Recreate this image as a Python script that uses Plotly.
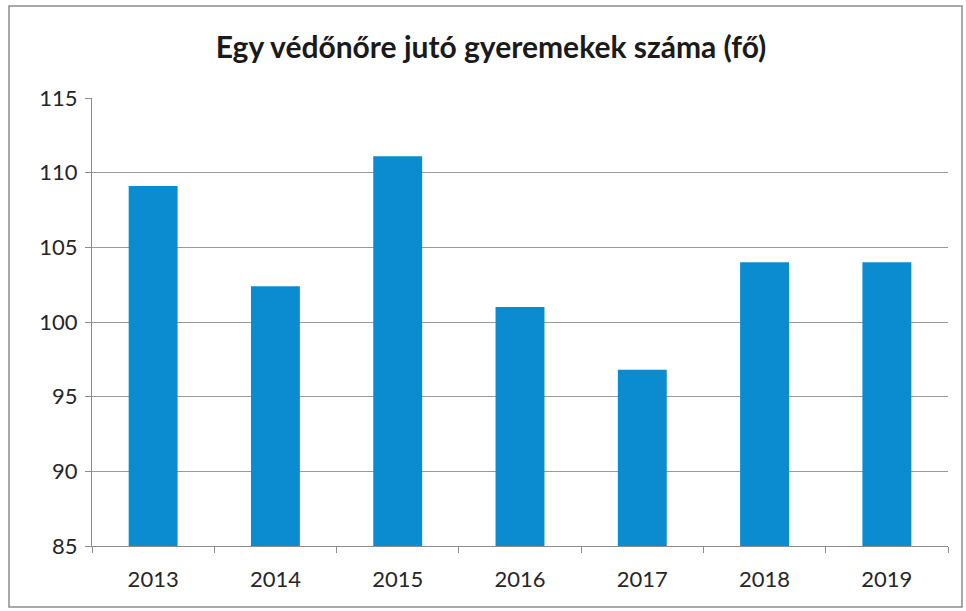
import plotly.graph_objects as go

years = ["2013", "2014", "2015", "2016", "2017", "2018", "2019"]
values = [109.1, 102.4, 111.1, 101.0, 96.8, 104.0, 104.0]
title_text = "Egy védőnőre jutó gyeremekek száma (fő)"
bar_color = "#0b8bd0"

fig = go.Figure(go.Bar(x=years, y=values, marker=dict(color=bar_color, line=dict(width=0)),
                       width=0.4))

L, R, T, B = 92, 18, 98, 65
W, H = 966, 611
pw, ph = W - L - R, H - T - B

def px(x):
    return (x - L) / pw

def py(y):
    return (H - B - y) / ph

fig.update_layout(
    width=W, height=H,
    margin=dict(l=L, r=R, t=T, b=B),
    paper_bgcolor="white", plot_bgcolor="white",
    font=dict(family="Lato, Carlito, sans-serif", color="#262626"),
    title=dict(text="<b>" + title_text + "</b>", x=491 / W, xanchor="center",
               y=1 - 47 / H, yanchor="middle", font=dict(size=30, color="#1a1a1a")),
    showlegend=False,
    bargap=0.6,
    xaxis=dict(type="category", showline=True, linecolor="#8c8c8c", linewidth=1,
               ticks="outside", tickson="boundaries", ticklen=6, tickcolor="#8c8c8c",
               tickfont=dict(size=22), showgrid=False, ticklabelstandoff=14),
    yaxis=dict(range=[85, 115], dtick=5, tick0=85, showline=True, linecolor="#8c8c8c",
               linewidth=1, ticks="outside", ticklen=6, tickcolor="#8c8c8c",
               gridcolor="#9a9a9a", gridwidth=1, tickfont=dict(size=22),
               zeroline=False, ticklabelstandoff=3),
    shapes=[dict(type="rect", xref="paper", yref="paper",
                 x0=px(9), x1=px(962), y0=py(607), y1=py(6),
                 line=dict(color="#8c8c8c", width=1.5), fillcolor="rgba(0,0,0,0)",
                 layer="below")],
)

fig.write_html("out.html", config={"displayModeBar": False},
               post_script="document.body.style.margin='0px';")
